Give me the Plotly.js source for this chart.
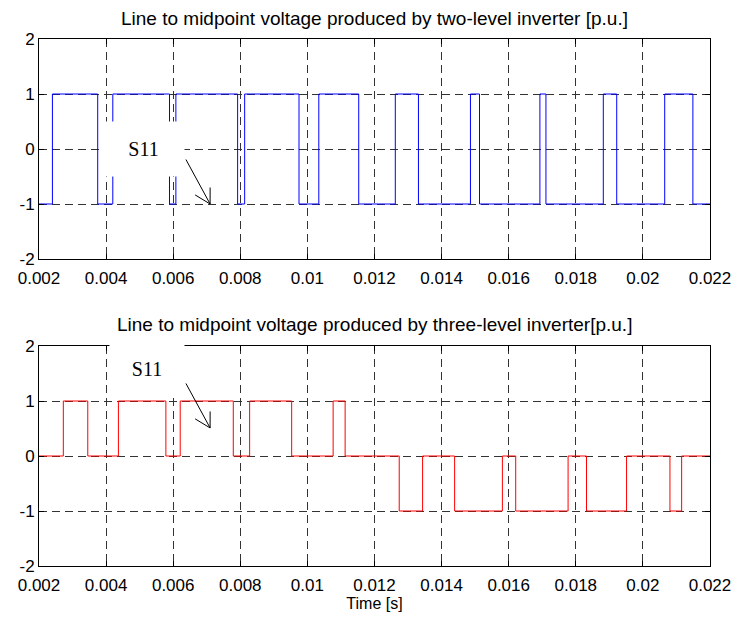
<!DOCTYPE html>
<html>
<head>
<meta charset="utf-8">
<script src="https://cdn.plot.ly/plotly-3.0.1.min.js"></script>
<style>html,body{margin:0;padding:0;background:#fff;}#plot{width:735px;height:619px;}</style>
</head>
<body>
<div id="plot"></div>
<script>
// Two-level inverter: switching instants [s] and levels [p.u.]
var twoLevelTime = [0.002, 0.0024, 0.00375, 0.0042, 0.00589, 0.00608, 0.00792, 0.00813, 0.00975, 0.01034, 0.01153, 0.01262, 0.01331, 0.01486, 0.01513, 0.01693, 0.01711, 0.01882, 0.01922, 0.02065, 0.02149, 0.022];
var twoLevelVolt = [-1, 1, -1, 1, -1, 1, -1, 1, -1, 1, -1, 1, -1, 1, -1, 1, -1, 1, -1, 1, -1, -1];

// Three-level inverter: switching instants [s] and levels [p.u.]
var threeLevelTime = [0.002, 0.002725, 0.003454, 0.004367, 0.005782, 0.006209, 0.007791, 0.008278, 0.009531, 0.010767, 0.011125, 0.012737, 0.013433, 0.014388, 0.015812, 0.016209, 0.01777, 0.018319, 0.019513, 0.020806, 0.021155, 0.022];
var threeLevelVolt = [0, 1, 0, 1, 0, 1, 0, 1, 0, 1, 0, -1, 0, -1, 0, -1, 0, -1, 0, -1, 0, 0];

var xTickVals = [0.002, 0.004, 0.006, 0.008, 0.01, 0.012, 0.014, 0.016, 0.018, 0.02, 0.022];
var xTickText = ['0.002', '0.004', '0.006', '0.008', '0.01', '0.012', '0.014', '0.016', '0.018', '0.02', '0.022'];
var yTickVals = [-2, -1, 0, 1, 2];
var yTickText = ['-2', '-1', '0', '1', '2'];

var titleTop = 'Line to midpoint voltage produced by two-level inverter [p.u.]';
var titleBottom = 'Line to midpoint voltage produced by three-level inverter[p.u.]';
var labelS11 = 'S11';

var FONT = 'Liberation Sans, Arial, Helvetica, sans-serif';
var SERIF = 'Liberation Serif, Times New Roman, serif';

var traces = [
  {x: twoLevelTime, y: twoLevelVolt, type: 'scatter', mode: 'lines', line: {shape: 'hv', color: '#0000ff', width: 1}, xaxis: 'x', yaxis: 'y', hoverinfo: 'none'},
  {x: threeLevelTime, y: threeLevelVolt, type: 'scatter', mode: 'lines', line: {shape: 'hv', color: '#ff0000', width: 1}, xaxis: 'x2', yaxis: 'y2', hoverinfo: 'none'}
];

function xAxis(anchor) {
  return {
    anchor: anchor, domain: [0, 1], range: [0.002, 0.022],
    tickmode: 'array', tickvals: xTickVals, ticktext: xTickText,
    ticks: 'inside', ticklen: 5, tickcolor: '#000', tickwidth: 1,
    ticklabelstandoff: 4,
    showline: true, linecolor: '#000', linewidth: 1, mirror: 'ticks',
    showgrid: true, gridcolor: '#333', gridwidth: 1, griddash: '8px,5px',
    zeroline: false, fixedrange: true,
    tickfont: {family: FONT, size: 17, color: '#000'}
  };
}
function yAxis(anchor, dom) {
  return {
    anchor: anchor, domain: dom, range: [-2, 2],
    tickmode: 'array', tickvals: yTickVals, ticktext: yTickText,
    ticks: 'inside', ticklen: 5, tickcolor: '#000', tickwidth: 1,
    showline: true, linecolor: '#000', linewidth: 1, mirror: 'ticks',
    showgrid: true, gridcolor: '#333', gridwidth: 1, griddash: '8px,5px',
    zeroline: false, fixedrange: true,
    tickfont: {family: FONT, size: 17, color: '#000'}
  };
}

var xa2 = xAxis('y2');
xa2.title = {text: 'Time [s]', font: {family: FONT, size: 16, color: '#000'}, standoff: 2};

// Arrow drawn as a thin shaft plus an open "V" head (two thin strokes), offsets in pixels from the tip
function arrow(xr, yr, tx, ty) {
  var base = {xref: xr, yref: yr, x: tx, y: ty, text: '', showarrow: true, arrowhead: 0, arrowwidth: 1, arrowcolor: '#000', standoff: 0, startstandoff: 0};
  return [
    Object.assign({}, base, {ax: -25, ay: -46}),
    Object.assign({}, base, {ax: -16.5, ay: -10}),
    Object.assign({}, base, {ax: 0, ay: -18})
  ];
}

var annotations = [
  {xref: 'paper', yref: 'paper', x: 0.5, y: 1 - 18 / 619, xanchor: 'center', yanchor: 'middle', text: titleTop, showarrow: false, font: {family: FONT, size: 19, color: '#000'}},
  {xref: 'paper', yref: 'paper', x: 0.5, y: 1 - 324 / 619, xanchor: 'center', yanchor: 'middle', text: titleBottom, showarrow: false, font: {family: FONT, size: 19, color: '#000'}},
  // S11 labels with white background box
  {xref: 'x', yref: 'y', x: 0.00512, y: 0, text: labelS11, showarrow: false, bgcolor: '#fff', borderpad: 0, width: 81, height: 54, xanchor: 'center', yanchor: 'middle', font: {family: SERIF, size: 20, color: '#000'}},
  {xref: 'x2', yref: 'y2', x: 0.00522, y: 1.58, text: labelS11, showarrow: false, bgcolor: '#fff', borderpad: 0, width: 74, height: 54, xanchor: 'center', yanchor: 'middle', font: {family: SERIF, size: 20, color: '#000'}}
].concat(arrow('x', 'y', 0.0071, -1)).concat(arrow('x2', 'y2', 0.0071, 0.51));

var layout = {
  width: 735, height: 619,
  margin: {l: 39, r: 25, t: 0, b: 0, pad: 0},
  paper_bgcolor: '#fff', plot_bgcolor: '#fff',
  showlegend: false,
  xaxis: xAxis('y'),
  yaxis: yAxis('x', [1 - 259 / 619, 1 - 39 / 619]),
  xaxis2: xa2,
  yaxis2: yAxis('x2', [1 - 566 / 619, 1 - 346 / 619]),
  annotations: annotations
};

Plotly.newPlot('plot', traces, layout, {staticPlot: true, displayModeBar: false});
</script>
</body>
</html>
